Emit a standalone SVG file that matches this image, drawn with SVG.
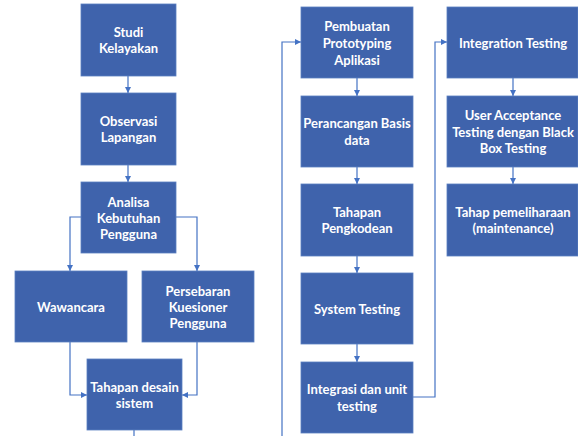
<svg xmlns="http://www.w3.org/2000/svg" width="578" height="436" viewBox="0 0 578 436">
<style>
.box{fill:#3F63AC;stroke:#5B7FC0;stroke-width:0.8}
.t{font-family:Lato,"Open Sans",sans-serif;font-weight:bold;font-size:13px;fill:#fff;text-anchor:middle;dominant-baseline:central}
.c{fill:none;stroke:#4472C4;stroke-width:1.2}
</style>
<defs>
<marker id="a" markerWidth="8" markerHeight="8" refX="6" refY="4" orient="auto" markerUnits="userSpaceOnUse">
<path d="M0,1 L6,4 L0,7 Z" fill="#4472C4"/>
</marker>
</defs>
<rect width="578" height="436" fill="#fff"/>
<g id="connectors">
<path class="c" d="M128,76 V93" marker-end="url(#a)"/>
<path class="c" d="M128,165 V182" marker-end="url(#a)"/>
<path class="c" d="M81,217 H70 V271" marker-end="url(#a)"/>
<path class="c" d="M176,217 H197 V271" marker-end="url(#a)"/>
<path class="c" d="M70,342 V395 H87" marker-end="url(#a)"/>
<path class="c" d="M197,342 V395 H182" marker-end="url(#a)"/>
<path class="c" d="M134,430 V436"/>
<path class="c" d="M282,436 V42 H301" marker-end="url(#a)"/>
<path class="c" d="M357,78 V96" marker-end="url(#a)"/>
<path class="c" d="M357,167 V184" marker-end="url(#a)"/>
<path class="c" d="M357,256 V273" marker-end="url(#a)"/>
<path class="c" d="M357,344 V362" marker-end="url(#a)"/>
<path class="c" d="M413,397 H435 V42 H447" marker-end="url(#a)"/>
<path class="c" d="M513,78 V96" marker-end="url(#a)"/>
<path class="c" d="M513,167 V184" marker-end="url(#a)"/>
</g>
<g id="studi"><rect class="box" x="81" y="4" width="95" height="72"/><text class="t" x="128.5" y="32">Studi</text><text class="t" x="128.5" y="48">Kelayakan</text></g>
<g id="observasi"><rect class="box" x="81" y="93" width="95" height="72"/><text class="t" x="128.5" y="121">Observasi</text><text class="t" x="128.5" y="137">Lapangan</text></g>
<g id="analisa"><rect class="box" x="81" y="182" width="95" height="71"/><text class="t" x="128.5" y="202">Analisa</text><text class="t" x="128.5" y="218">Kebutuhan</text><text class="t" x="128.5" y="234">Pengguna</text></g>
<g id="wawancara"><rect class="box" x="15" y="271" width="112" height="71"/><text class="t" x="71" y="307">Wawancara</text></g>
<g id="persebaran"><rect class="box" x="142" y="271" width="112" height="71"/><text class="t" x="198" y="291">Persebaran</text><text class="t" x="198" y="307">Kuesioner</text><text class="t" x="198" y="323">Pengguna</text></g>
<g id="desain"><rect class="box" x="87" y="359" width="95" height="71"/><text class="t" x="134.5" y="387">Tahapan desain</text><text class="t" x="134.5" y="403">sistem</text></g>
<g id="pembuatan"><rect class="box" x="301" y="7" width="112" height="71"/><text class="t" x="357" y="26">Pembuatan</text><text class="t" x="357" y="43">Prototyping</text><text class="t" x="357" y="60">Aplikasi</text></g>
<g id="perancangan"><rect class="box" x="301" y="96" width="112" height="71"/><text class="t" x="357" y="123">Perancangan Basis</text><text class="t" x="357" y="140">data</text></g>
<g id="pengkodean"><rect class="box" x="301" y="184" width="112" height="72"/><text class="t" x="357" y="212">Tahapan</text><text class="t" x="357" y="228">Pengkodean</text></g>
<g id="system"><rect class="box" x="301" y="273" width="112" height="71"/><text class="t" x="357" y="309">System Testing</text></g>
<g id="integrasi"><rect class="box" x="301" y="362" width="112" height="71"/><text class="t" x="357" y="389">Integrasi dan unit</text><text class="t" x="357" y="406">testing</text></g>
<g id="integration"><rect class="box" x="447" y="7" width="131" height="71"/><text class="t" x="513" y="43">Integration Testing</text></g>
<g id="uat"><rect class="box" x="447" y="96" width="131" height="71"/><text class="t" x="513" y="115">User Acceptance</text><text class="t" x="513" y="132">Testing dengan Black</text><text class="t" x="513" y="148">Box Testing</text></g>
<g id="pemeliharaan"><rect class="box" x="447" y="184" width="131" height="72"/><text class="t" x="513" y="212">Tahap pemeliharaan</text><text class="t" x="513" y="228">(maintenance)</text></g>
</svg>
